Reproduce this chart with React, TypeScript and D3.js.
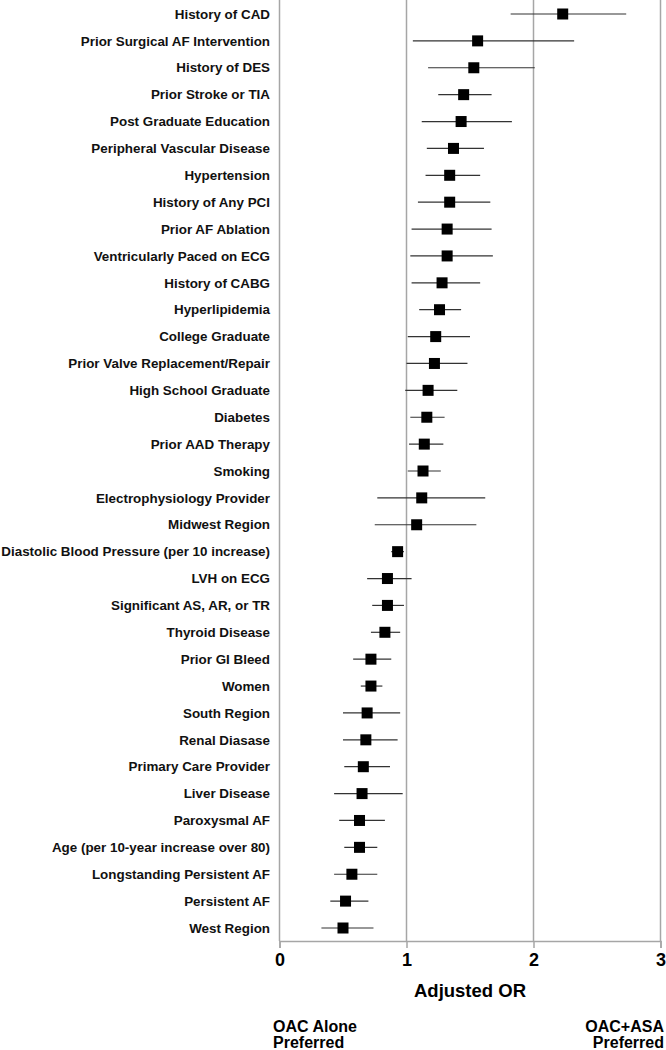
import { useRef, useEffect } from "react";
import * as d3 from "d3";

// factors, top to bottom
const factors = [
  "History of CAD",
  "Prior Surgical AF Intervention",
  "History of DES",
  "Prior Stroke or TIA",
  "Post Graduate Education",
  "Peripheral Vascular Disease",
  "Hypertension",
  "History of Any PCI",
  "Prior AF Ablation",
  "Ventricularly Paced on ECG",
  "History of CABG",
  "Hyperlipidemia",
  "College Graduate",
  "Prior Valve Replacement/Repair",
  "High School Graduate",
  "Diabetes",
  "Prior AAD Therapy",
  "Smoking",
  "Electrophysiology Provider",
  "Midwest Region",
  "Diastolic Blood Pressure (per 10 increase)",
  "LVH on ECG",
  "Significant AS, AR, or TR",
  "Thyroid Disease",
  "Prior GI Bleed",
  "Women",
  "South Region",
  "Renal Diasase",
  "Primary Care Provider",
  "Liver Disease",
  "Paroxysmal AF",
  "Age (per 10-year increase over 80)",
  "Longstanding Persistent AF",
  "Persistent AF",
  "West Region",
];

const oddsRatio = [
  2.23, 1.56, 1.53, 1.45, 1.43, 1.37, 1.34, 1.34, 1.32, 1.32, 1.28, 1.26,
  1.23, 1.22, 1.17, 1.16, 1.14, 1.13, 1.12, 1.08, 0.93, 0.85, 0.85, 0.83,
  0.72, 0.72, 0.69, 0.68, 0.66, 0.65, 0.63, 0.63, 0.57, 0.52, 0.5,
];

const lowerCI = [
  1.82, 1.05, 1.17, 1.25, 1.12, 1.16, 1.15, 1.09, 1.04, 1.03, 1.04, 1.1,
  1.01, 1.0, 0.99, 1.03, 1.02, 1.01, 0.77, 0.75, 0.88, 0.69, 0.73, 0.72,
  0.58, 0.64, 0.5, 0.5, 0.51, 0.43, 0.47, 0.51, 0.43, 0.4, 0.33,
];

const upperCI = [
  2.73, 2.32, 2.01, 1.67, 1.83, 1.61, 1.58, 1.66, 1.67, 1.68, 1.58, 1.43,
  1.5, 1.48, 1.4, 1.3, 1.29, 1.27, 1.62, 1.55, 0.98, 1.04, 0.98, 0.95,
  0.88, 0.81, 0.95, 0.93, 0.87, 0.97, 0.83, 0.77, 0.77, 0.7, 0.74,
];

const xTicks = [0, 1, 2, 3];

const App = () => {
  const svgRef = useRef<SVGSVGElement>(null);

  useEffect(() => {
    const svg = d3.select(svgRef.current);
    svg.selectAll("*").remove();

    const font = "'Liberation Sans', Arial, sans-serif";
    const axisY = 941;

    const x = d3.scaleLinear().domain([0, 3]).range([279.5, 660.5]);
    const y = d3.scalePoint<string>().domain(factors).range([14, 928]);

    const rows = factors.map((name, i) => ({
      name,
      or: oddsRatio[i],
      lo: lowerCI[i],
      hi: upperCI[i],
    }));

    // vertical gridlines
    svg
      .append("g")
      .selectAll("line")
      .data(xTicks)
      .enter()
      .append("line")
      .attr("x1", (d) => x(d))
      .attr("x2", (d) => x(d))
      .attr("y1", 0)
      .attr("y2", axisY)
      .attr("stroke", "#a6a6a6")
      .attr("stroke-width", 1.5);

    // x axis
    const axis = svg
      .append("g")
      .attr("transform", `translate(0,${axisY})`)
      .call(d3.axisBottom(x).tickValues(xTicks).tickSize(7).tickPadding(5).tickFormat(d3.format("d")));
    axis.select(".domain").attr("stroke", "#a6a6a6").attr("stroke-width", 1.5);
    axis.selectAll(".tick line").attr("stroke", "#a6a6a6").attr("stroke-width", 1.5);
    axis
      .selectAll(".tick text")
      .attr("font-family", font)
      .attr("font-weight", "bold")
      .attr("font-size", 18)
      .attr("fill", "#000");

    // row labels
    svg
      .append("g")
      .selectAll("text")
      .data(rows)
      .enter()
      .append("text")
      .attr("x", 270)
      .attr("y", (d) => y(d.name)!)
      .attr("dy", "0.35em")
      .attr("text-anchor", "end")
      .attr("font-family", font)
      .attr("font-weight", "bold")
      .attr("font-size", 13.4)
      .attr("fill", "#111")
      .text((d) => d.name);

    // confidence intervals
    svg
      .append("g")
      .selectAll("line")
      .data(rows)
      .enter()
      .append("line")
      .attr("x1", (d) => x(d.lo))
      .attr("x2", (d) => x(d.hi))
      .attr("y1", (d) => y(d.name)!)
      .attr("y2", (d) => y(d.name)!)
      .attr("stroke", "#333")
      .attr("stroke-width", 1.2);

    // point estimates
    const s = 11;
    svg
      .append("g")
      .selectAll("rect")
      .data(rows)
      .enter()
      .append("rect")
      .attr("x", (d) => x(d.or) - s / 2)
      .attr("y", (d) => y(d.name)! - s / 2)
      .attr("width", s)
      .attr("height", s)
      .attr("fill", "#000");

    // axis title
    svg
      .append("text")
      .attr("x", x(1.5))
      .attr("y", 997)
      .attr("text-anchor", "middle")
      .attr("font-family", font)
      .attr("font-weight", "bold")
      .attr("font-size", 18.5)
      .text("Adjusted OR");

    // preference notes
    const notes = svg
      .append("g")
      .attr("font-family", font)
      .attr("font-weight", "bold")
      .attr("font-size", 16);
    const left = notes.append("text").attr("text-anchor", "start");
    left.append("tspan").attr("x", 273).attr("y", 1032).text("OAC Alone");
    left.append("tspan").attr("x", 273).attr("y", 1048).text("Preferred");
    const right = notes.append("text").attr("text-anchor", "end");
    right.append("tspan").attr("x", 664).attr("y", 1032).text("OAC+ASA");
    right.append("tspan").attr("x", 664).attr("y", 1048).text("Preferred");
  }, []);

  return (
    <div style={{ position: "absolute", left: 0, top: 0 }}>
      <svg ref={svgRef} width={666} height={1050} style={{ display: "block", background: "#fff" }} />
    </div>
  );
};

export default App;
